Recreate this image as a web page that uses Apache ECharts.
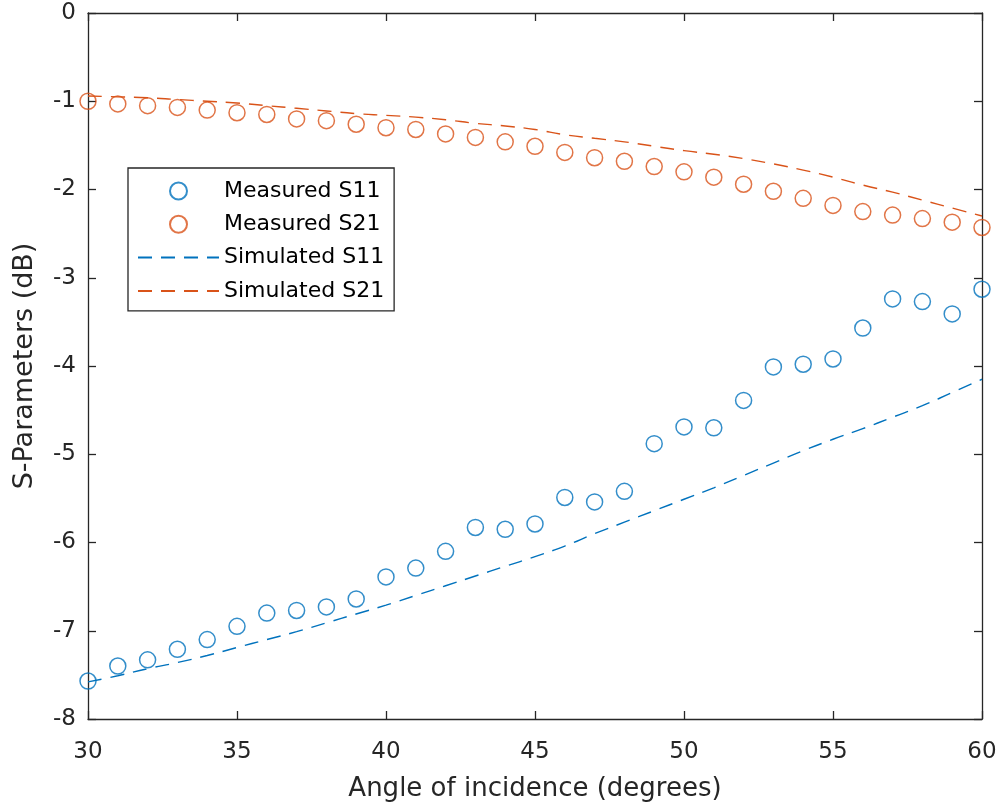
<!DOCTYPE html>
<html>
<head>
<meta charset="utf-8">
<script src="https://cdn.jsdelivr.net/npm/echarts@6/dist/echarts.min.js"></script>
<style>
  html, body { margin: 0; padding: 0; background: #fff; }
  #chart { width: 1003px; height: 807px; }
</style>
</head>
<body>
<div id="chart"></div>
<script>
// angle of incidence, degrees
var angles = [30,31,32,33,34,35,36,37,38,39,40,41,42,43,44,45,46,47,48,49,50,51,52,53,54,55,56,57,58,59,60];

var measuredS11 = [-7.57,-7.40,-7.33,-7.21,-7.10,-6.95,-6.80,-6.77,-6.73,-6.64,-6.39,-6.29,-6.10,-5.83,-5.85,-5.79,
  -5.49,-5.54,-5.42,-4.88,-4.69,-4.70,-4.39,-4.01,-3.98,-3.92,-3.57,-3.24,-3.27,-3.41,-3.13];
var measuredS21 = [-1.00,-1.03,-1.05,-1.07,-1.10,-1.13,-1.15,-1.20,-1.22,-1.26,-1.30,-1.32,-1.37,-1.41,-1.46,-1.51,
  -1.58,-1.64,-1.68,-1.74,-1.80,-1.86,-1.94,-2.02,-2.10,-2.18,-2.25,-2.29,-2.33,-2.37,-2.43];
var simulatedS11 = [-7.58,-7.51,-7.43,-7.36,-7.28,-7.19,-7.10,-7.01,-6.91,-6.81,-6.71,-6.60,-6.49,-6.38,-6.27,-6.16,
  -6.04,-5.90,-5.77,-5.64,-5.51,-5.38,-5.24,-5.10,-4.96,-4.83,-4.71,-4.58,-4.45,-4.30,-4.15];
var simulatedS21 = [-0.94,-0.95,-0.96,-0.98,-1.00,-1.02,-1.05,-1.08,-1.11,-1.14,-1.16,-1.18,-1.21,-1.25,-1.28,-1.32,
  -1.38,-1.42,-1.46,-1.51,-1.56,-1.60,-1.65,-1.71,-1.78,-1.86,-1.95,-2.03,-2.12,-2.21,-2.30];

var blue = '#0072BD';
var orange = '#D95319';
var axisCol = '#262626';
var font = "'DejaVu Sans', 'Liberation Sans', Arial, sans-serif";

var pairs = function (ys) {
  var out = [];
  for (var i = 0; i < angles.length; i++) out.push([angles[i], ys[i]]);
  return out;
};

// box axes (top / right) only carry inward ticks, like matlab's "box on"
var frameAxis = function (extra) {
  return Object.assign({
    type: 'value',
    axisLine: { show: true, onZero: false, lineStyle: { color: axisCol, width: 1.3 } },
    axisTick: { show: true, inside: true, length: 8, lineStyle: { color: axisCol, width: 1.3 } },
    axisLabel: { show: false },
    splitLine: { show: false }
  }, extra);
};

var scatterSeries = function (name, ys, col) {
  return {
    name: name,
    type: 'scatter',
    data: pairs(ys),
    symbol: 'circle',
    symbolSize: 16,
    itemStyle: { color: 'rgba(255,255,255,0)', borderColor: col, borderWidth: 1.5 },
    z: 3
  };
};

var lineSeries = function (name, ys, col) {
  return {
    name: name,
    type: 'line',
    data: pairs(ys),
    smooth: true,
    showSymbol: false,
    symbol: 'none',
    lineStyle: { color: col, width: 1.4, type: [14, 9] },
    itemStyle: { color: col },
    z: 2
  };
};

// no marker on the dashed legend entries
var noMarker = { color: 'rgba(0,0,0,0)', borderColor: 'rgba(0,0,0,0)', borderWidth: 0 };

var option = {
  animation: false,
  backgroundColor: '#fff',
  grid: { left: 88, right: 21, top: 13, bottom: 88, containLabel: false },
  xAxis: [
    {
      type: 'value', min: 30, max: 60, interval: 5,
      name: 'Angle of incidence (degrees)', nameLocation: 'middle', nameGap: 57,
      nameTextStyle: { fontFamily: font, fontSize: 26, color: axisCol },
      axisLine: { show: true, onZero: false, lineStyle: { color: axisCol, width: 1.3 } },
      axisTick: { show: true, inside: true, length: 8, lineStyle: { color: axisCol, width: 1.3 } },
      axisLabel: { fontFamily: font, fontSize: 23, color: axisCol, margin: 22 },
      splitLine: { show: false }
    },
    frameAxis({ position: 'top', min: 30, max: 60, interval: 5 })
  ],
  yAxis: [
    {
      type: 'value', min: -8, max: 0, interval: 1,
      name: 'S-Parameters (dB)', nameLocation: 'middle', nameGap: 50,
      nameTextStyle: { fontFamily: font, fontSize: 27, color: axisCol },
      axisLine: { show: true, onZero: false, lineStyle: { color: axisCol, width: 1.3 } },
      axisTick: { show: true, inside: true, length: 8, lineStyle: { color: axisCol, width: 1.3 } },
      axisLabel: { fontFamily: font, fontSize: 23, color: axisCol, margin: 12 },
      splitLine: { show: false }
    },
    frameAxis({ position: 'right', min: -8, max: 0, interval: 1 })
  ],
  legend: {
    orient: 'vertical',
    left: 128, top: 168,
    padding: [12, 10, 9, 9],
    itemWidth: 81, itemHeight: 17, itemGap: 11.3,
    backgroundColor: '#fff',
    borderColor: axisCol, borderWidth: 1.3,
    textStyle: { fontFamily: font, fontSize: 22, color: '#000' },
    data: [
      'Measured S11',
      'Measured S21',
      { name: 'Simulated S11', itemStyle: noMarker },
      { name: 'Simulated S21', itemStyle: noMarker }
    ]
  },
  series: [
    scatterSeries('Measured S11', measuredS11, blue),
    scatterSeries('Measured S21', measuredS21, orange),
    lineSeries('Simulated S11', simulatedS11, blue),
    lineSeries('Simulated S21', simulatedS21, orange)
  ]
};

var myChart = echarts.init(document.getElementById('chart'));
myChart.setOption(option);
</script>
</body>
</html>
